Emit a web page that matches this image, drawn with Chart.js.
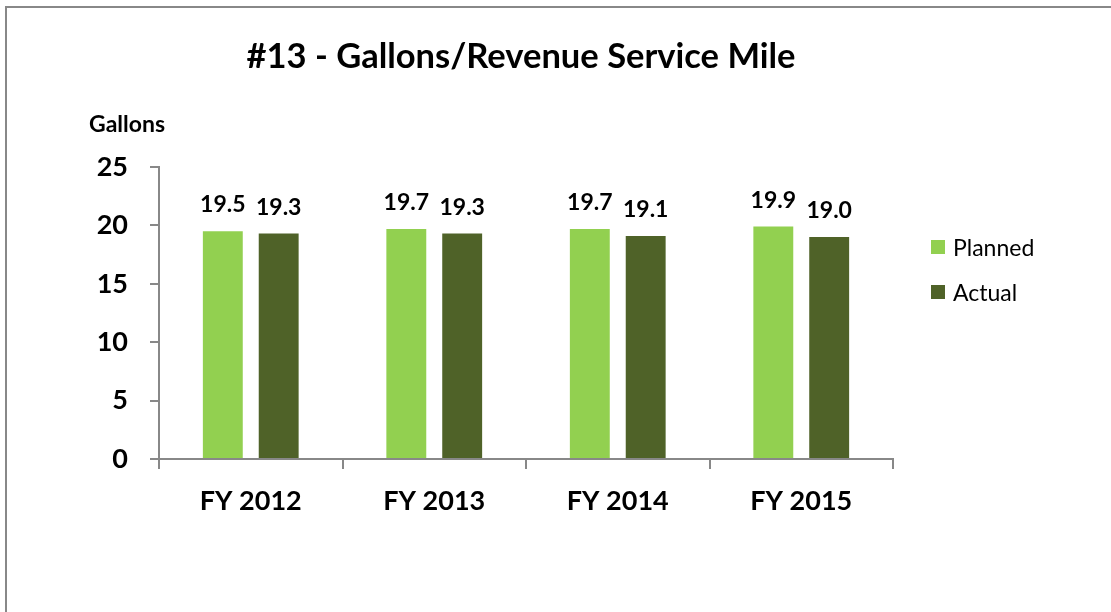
<!DOCTYPE html>
<html>
<head>
<meta charset="utf-8">
<script src="https://cdn.jsdelivr.net/npm/chart.js@4/dist/chart.umd.min.js"></script>
<style>
  html, body { margin: 0; padding: 0; background: #ffffff; }
  #wrap { width: 1111px; height: 612px; position: relative; }
</style>
</head>
<body>
<div id="wrap"><canvas id="c" width="1111" height="612"></canvas></div>
<script>
const chartTitle = "#13 - Gallons/Revenue Service Mile";
const yAxisTitle = "Gallons";
const categories = ["FY 2012", "FY 2013", "FY 2014", "FY 2015"];
const seriesNames = ["Planned", "Actual"];
const plannedValues = [19.5, 19.7, 19.7, 19.9];
const actualValues = [19.3, 19.3, 19.1, 19.0];
const yTicks = [0, 5, 10, 15, 20, 25];

const FONT = "Lato, 'Open Sans', 'DejaVu Sans', sans-serif";
const colors = ["#92D050", "#4F6228"];

const decorPlugin = {
  id: 'decor',
  beforeDraw(chart) {
    const ctx = chart.ctx;
    ctx.save();
    ctx.fillStyle = '#ffffff';
    ctx.fillRect(0, 0, chart.width, chart.height);
    ctx.strokeStyle = '#888888';
    ctx.lineWidth = 2;
    ctx.beginPath();
    ctx.moveTo(6, chart.height + 5);
    ctx.lineTo(6, 7);
    ctx.lineTo(chart.width + 5, 7);
    ctx.stroke();
    ctx.restore();
  },
  afterDraw(chart) {
    const ctx = chart.ctx;
    ctx.save();
    // title
    ctx.fillStyle = '#000000';
    ctx.font = "bold 34.5px " + FONT;
    ctx.textAlign = 'center';
    ctx.textBaseline = 'alphabetic';
    ctx.fillText(chartTitle, 521, 68);
    // axis title
    ctx.font = "bold 23px " + FONT;
    ctx.textAlign = 'left';
    ctx.fillText(yAxisTitle, 89, 132);
    // legend
    chart.data.datasets.forEach((ds, i) => {
      const y = 240 + i * 45;
      ctx.fillStyle = ds.backgroundColor;
      ctx.fillRect(931, y, 14, 14);
      ctx.fillStyle = '#000000';
      ctx.font = "23px " + FONT;
      ctx.textAlign = 'left';
      ctx.fillText(ds.label, 953, y + 15.5);
    });
    ctx.restore();
  },
  afterDatasetsDraw(chart) {
    const ctx = chart.ctx;
    ctx.save();
    ctx.fillStyle = '#000000';
    ctx.font = "bold 23px " + FONT;
    ctx.textAlign = 'center';
    ctx.textBaseline = 'alphabetic';
    chart.data.datasets.forEach((ds, i) => {
      const meta = chart.getDatasetMeta(i);
      meta.data.forEach((bar, j) => {
        ctx.fillText(Number(ds.data[j]).toFixed(1), bar.x, bar.y - 19);
      });
    });
    ctx.restore();
  }
};

new Chart(document.getElementById('c'), {
  type: 'bar',
  data: {
    labels: categories,
    datasets: [
      { label: seriesNames[0], data: plannedValues, backgroundColor: colors[0], borderWidth: 0,
        barPercentage: 0.714, categoryPercentage: 0.609 },
      { label: seriesNames[1], data: actualValues, backgroundColor: colors[1], borderWidth: 0,
        barPercentage: 0.714, categoryPercentage: 0.609 }
    ]
  },
  options: {
    responsive: false,
    devicePixelRatio: 1,
    animation: false,
    layout: { padding: { left: 0, right: 218, top: 167, bottom: 93 } },
    plugins: {
      legend: { display: false },
      title: { display: false },
      tooltip: { enabled: false }
    },
    scales: {
      x: {
        offset: true,
        grid: { display: true, drawOnChartArea: false, drawTicks: true, tickLength: 10, color: '#888888', lineWidth: 2, offset: true },
        border: { display: true, color: '#888888', width: 2 },
        ticks: { color: '#000000', font: { family: FONT, size: 27, weight: 'bold' }, padding: 16 },
        afterFit(scale) { scale.height = 60; }
      },
      y: {
        min: 0, max: 25,
        afterBuildTicks(scale) { scale.ticks = yTicks.map(v => ({ value: v })); },
        grid: { display: true, drawOnChartArea: false, drawTicks: true, tickLength: 9, color: '#888888', lineWidth: 2 },
        border: { display: true, color: '#888888', width: 2 },
        ticks: { color: '#000000', font: { family: FONT, size: 27, weight: 'bold' }, padding: 22 },
        afterFit(scale) { scale.width = 159; }
      }
    }
  },
  plugins: [decorPlugin]
});
</script>
</body>
</html>
